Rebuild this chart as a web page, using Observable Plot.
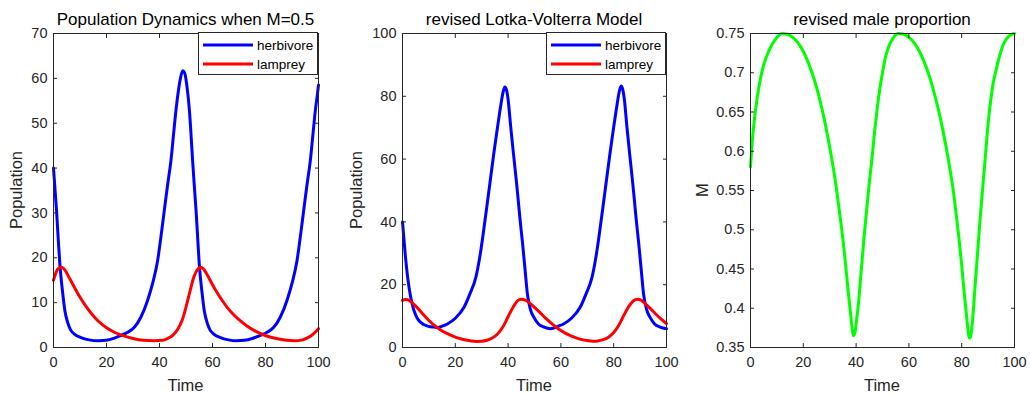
<!DOCTYPE html>
<html>
<head>
<meta charset="utf-8">
<script src="https://cdn.jsdelivr.net/npm/d3@7"></script>
<script src="https://cdn.jsdelivr.net/npm/@observablehq/plot@0.6"></script>
<style>
  html, body { margin: 0; padding: 0; background: #fff; }
  #wrap { position: relative; width: 1030px; height: 394px; background: #fff; font-family: "Liberation Sans", Arial, sans-serif; color: #262626; overflow: hidden; }
  .panel { position: absolute; top: 0; }
  .title { position: absolute; top: 11px; font-size: 17px; line-height: 17px; color: #000; white-space: nowrap; transform: translateX(-50%); }
  .xlab { position: absolute; top: 377px; font-size: 16.5px; line-height: 16.5px; color: #262626; white-space: nowrap; transform: translateX(-50%); }
  .ylab { position: absolute; font-size: 16.5px; line-height: 16.5px; color: #262626; white-space: nowrap; transform: translate(-50%, -50%) rotate(-90deg); }
  .legend { position: absolute; background: #fff; border: 1px solid #262626; box-sizing: border-box; font-size: 13.5px; color: #000; }
  .legend .row { position: absolute; left: 0; height: 18px; display: flex; align-items: center; }
  .legend svg { display: block; }
</style>
</head>
<body>
<div id="wrap"></div>
<script>
// ---------- Data ----------
const timeTicks = [0, 20, 40, 60, 80, 100];
const popTicks1 = [0, 10, 20, 30, 40, 50, 60, 70];
const popTicks2 = [0, 20, 40, 60, 80, 100];
const mTicks = [0.35, 0.4, 0.45, 0.5, 0.55, 0.6, 0.65, 0.7, 0.75];
const seriesNames = ["herbivore", "lamprey"];
const titles = ["Population Dynamics when M=0.5", "revised Lotka-Volterra Model", "revised male proportion"];
const xLabels = ["Time", "Time", "Time"];
const yLabels = ["Population", "Population", "M"];

// Panel 1: herbivore
const herbT1 = [0,0.6,1.2,1.8,2.4,3.4,4.3,5.4,6.4,7.9,10.4,13.4,17,20,23,25.5,28,30.5,33,35.5,37.5,39.3,40.5,41.8,43,44.3,45.3,46.2,47.2,48,48.8,49.5,50.3,51.3,52,52.5,53.2,53.8,54.4,55,56,56.9,58,59,60.5,63,66,69,72,75,78.1,80.6,83.1,85.6,88.1,90.1,91.9,93.1,94.4,95.6,96.9,97.9,98.8,99.6,100];
const herbV1 = [40,35,30,24,18.6,12.5,8.2,5.5,4,3,2.2,1.7,1.5,1.6,2.1,2.7,3.4,4.5,6.8,10.5,14.5,19.4,24.5,30.5,36,41.6,47.5,52.8,57.5,60.3,61.7,61.2,58.5,52.8,46.5,41.6,35.5,30.5,24.5,18.6,12.5,8.2,5.5,4,3,2.2,1.7,1.5,1.6,2,2.7,3.4,4.5,6.8,10.5,14.5,19.4,24.5,30.5,36,41.6,47.5,52.8,56.5,58.5];
// Panel 1: lamprey
const lampT1 = [0,1,2,3,4,6,8,10,12,14,16,18,20,23,26,30,34,38,41,43,45,47,48.5,50,51.5,53,54.5,55.5,56.5,58,60,62,64,66,68,70,73,76,79,82,85,88,91,94,96,98,100];
const lampV1 = [15,16.8,17.7,17.9,17.5,15.5,13.3,11.2,9.4,7.8,6.4,5.3,4.4,3.4,2.7,2,1.6,1.5,1.6,2,2.7,4.2,6,9,12.5,15.8,17.5,17.9,17.6,16.2,14,12,10.2,8.6,7.3,6.2,4.8,3.7,2.9,2.3,1.9,1.6,1.5,1.7,2.2,3,4.2];

// Panel 2: herbivore
const herbT2 = [0,1,2,3,4,5,6,8,10,12,13.3,15,17,20,23.3,25.5,27.8,29.5,30.9,32.2,33.4,34.7,36,37.3,38.1,38.75,39.4,40,41,42,43,43.6,44.5,45.5,46.4,47.3,48.5,49.8,51.5,53.6,56,57.3,59,61,64,67.3,69.5,71.8,73.5,74.9,76.2,77.4,78.7,80,81.3,82.1,82.8,83.4,84,85,86,87,87.6,88.5,89.5,90.4,91.3,92.5,93.8,95.5,97.6,100];
const herbV2 = [40,30,22,16.5,12.8,10.3,8.8,7.3,6.7,6.5,6.4,6.8,7.5,9.3,12.8,17,22.4,30,38.3,46.5,54.2,62.5,70.2,77.5,81.3,83,82,79,70.2,62,54,49,41,33,25,17.1,12,9.6,7.5,6.5,6,6.2,6.8,7.5,9.3,12.8,17,22.4,30,38.3,46.5,54.2,62.5,70.2,77.5,81.5,83.3,82.3,79.3,70.3,62,54,49,41,33,25,17.1,12,9.6,7.5,6.5,6];
// Panel 2: lamprey
const lampT2 = [0,1,2,3,4,5,6,8,10,12,14,16,18,20,22,24,26,28,30,32,34,36,38,40,42,43.5,45,46.5,48,50,52,54,56,58,60,62,64,66,68,70,72,74,76,78,80,82,84,86,87.5,89,90.5,92,94,96,98,100];
const lampV2 = [15,15.3,15.2,14.7,14,13.2,12.3,10.4,8.6,7.1,5.8,4.8,4,3.3,2.8,2.4,2.1,1.95,2,2.3,3,4.3,6.5,9.8,13,14.8,15.4,15.1,14.3,12.8,11.2,9.5,8,6.6,5.4,4.4,3.6,3,2.5,2.2,2,2.1,2.5,3.3,4.8,7.2,10.5,13.4,14.9,15.4,15,13.9,12.3,10.6,9,7.6];

// Panel 3: male proportion M
const mT = [0,0.5,1,2,3,4,5,6,8,10,12,14,16,18,20,22,24,26,28,30,32,34,35,36,37,38,38.6,39,39.5,40,41,42,43,44,45,46,47,48,49,50,51,52,54,56,58,60,62,64,66,68,70,72,74,76,77,78,79,80,81,82,82.6,83,83.5,84,85,86,87,88,89,90,91,92,93,94,96,98,100];
const mV = [0.58,0.605,0.625,0.655,0.678,0.696,0.71,0.72,0.735,0.745,0.75,0.749,0.745,0.738,0.727,0.712,0.693,0.669,0.64,0.605,0.565,0.515,0.488,0.456,0.422,0.39,0.372,0.365,0.368,0.38,0.41,0.45,0.49,0.525,0.56,0.59,0.625,0.655,0.68,0.7,0.718,0.73,0.744,0.75,0.749,0.745,0.738,0.727,0.712,0.693,0.669,0.641,0.607,0.568,0.545,0.517,0.488,0.455,0.418,0.385,0.367,0.362,0.366,0.38,0.425,0.47,0.515,0.555,0.595,0.635,0.665,0.688,0.703,0.717,0.738,0.747,0.75];

// ---------- Helpers ----------
const zip = (ts, vs) => ts.map((t, i) => ({t, v: vs[i]}));
const AX = "#262626";

function axesMarks(yTicks, yFmt) {
  return [
    Plot.frame({stroke: AX, strokeWidth: 1}),
    // tick labels
    Plot.axisX({anchor: "bottom", ticks: timeTicks, tickSize: 0, tickPadding: 9, label: null}),
    Plot.axisY({anchor: "left", ticks: yTicks, tickFormat: yFmt, tickSize: 0, tickPadding: 6, label: null}),
    // inward ticks on all four sides
    Plot.axisX({anchor: "bottom", ticks: timeTicks, tickSize: -4, tickFormat: () => "", label: null, stroke: AX}),
    Plot.axisX({anchor: "top", ticks: timeTicks, tickSize: -4, tickFormat: () => "", label: null, stroke: AX}),
    Plot.axisY({anchor: "left", ticks: yTicks, tickSize: -4, tickFormat: () => "", label: null, stroke: AX}),
    Plot.axisY({anchor: "right", ticks: yTicks, tickSize: -4, tickFormat: () => "", label: null, stroke: AX})
  ];
}

const baseStyle = {fontFamily: "'Liberation Sans', Arial, sans-serif", fontSize: "14.5px", color: AX, background: "transparent", overflow: "visible"};

function makePanel(opts) {
  return Plot.plot({
    width: opts.width, height: 394,
    marginLeft: opts.ml, marginRight: opts.mr, marginTop: 33, marginBottom: 47,
    style: baseStyle,
    x: {domain: [0, 100]},
    y: {domain: opts.yDomain},
    marks: [
      ...opts.lines,
      ...axesMarks(opts.yTicks, opts.yFmt)
    ]
  });
}

const lineOpts = (color) => ({x: "t", y: "v", stroke: color, strokeWidth: 3, curve: "monotone-x"});

const panels = [
  {left: 0, width: 345, ml: 53, mr: 27, yDomain: [0, 70], yTicks: popTicks1, yFmt: d => String(d), yLabX: 16,
   lines: [Plot.line(zip(herbT1, herbV1), lineOpts("#0000ff")), Plot.line(zip(lampT1, lampV1), lineOpts("#ff0000"))]},
  {left: 345, width: 345, ml: 57, mr: 24, yDomain: [0, 100], yTicks: popTicks2, yFmt: d => String(d), yLabX: 356,
   lines: [Plot.line(zip(herbT2, herbV2), lineOpts("#0000ff")), Plot.line(zip(lampT2, lampV2), lineOpts("#ff0000"))]},
  {left: 690, width: 340, ml: 60, mr: 16, yDomain: [0.35, 0.75], yTicks: mTicks, yFmt: d => String(+d.toFixed(2)), yLabX: 702,
   lines: [Plot.line(zip(mT, mV), lineOpts("#00ff00"))]}
];

const wrap = document.getElementById("wrap");
panels.forEach((p, i) => {
  const div = document.createElement("div");
  div.className = "panel";
  div.style.left = p.left + "px";
  div.appendChild(makePanel(p));
  wrap.appendChild(div);
  const cx = p.left + p.ml + (p.width - p.ml - p.mr) / 2;
  const t = document.createElement("div");
  t.className = "title";
  t.textContent = titles[i];
  t.style.left = cx + "px";
  wrap.appendChild(t);
  const xl = document.createElement("div");
  xl.className = "xlab";
  xl.textContent = xLabels[i];
  xl.style.left = cx + "px";
  wrap.appendChild(xl);
  const yl = document.createElement("div");
  yl.className = "ylab";
  yl.textContent = yLabels[i];
  yl.style.left = p.yLabX + "px";
  yl.style.top = "190px";
  wrap.appendChild(yl);
});

// legends for the two population panels
const legendColors = ["#0000ff", "#ff0000"];
[[198, 32, 318], [546, 32, 666]].forEach(([lx, ly, right]) => {
  const lg = document.createElement("div");
  lg.className = "legend";
  lg.style.left = lx + "px";
  lg.style.top = ly + "px";
  lg.style.width = (right - lx) + "px";
  lg.style.height = "43px";
  seriesNames.forEach((name, j) => {
    const row = document.createElement("div");
    row.className = "row";
    row.style.top = (3 + j * 19) + "px";
    row.innerHTML = `<svg width="58" height="18"><line x1="4" x2="54" y1="9" y2="9" stroke="${legendColors[j]}" stroke-width="3"/></svg><span>${name}</span>`;
    lg.appendChild(row);
  });
  wrap.appendChild(lg);
});
</script>
</body>
</html>
